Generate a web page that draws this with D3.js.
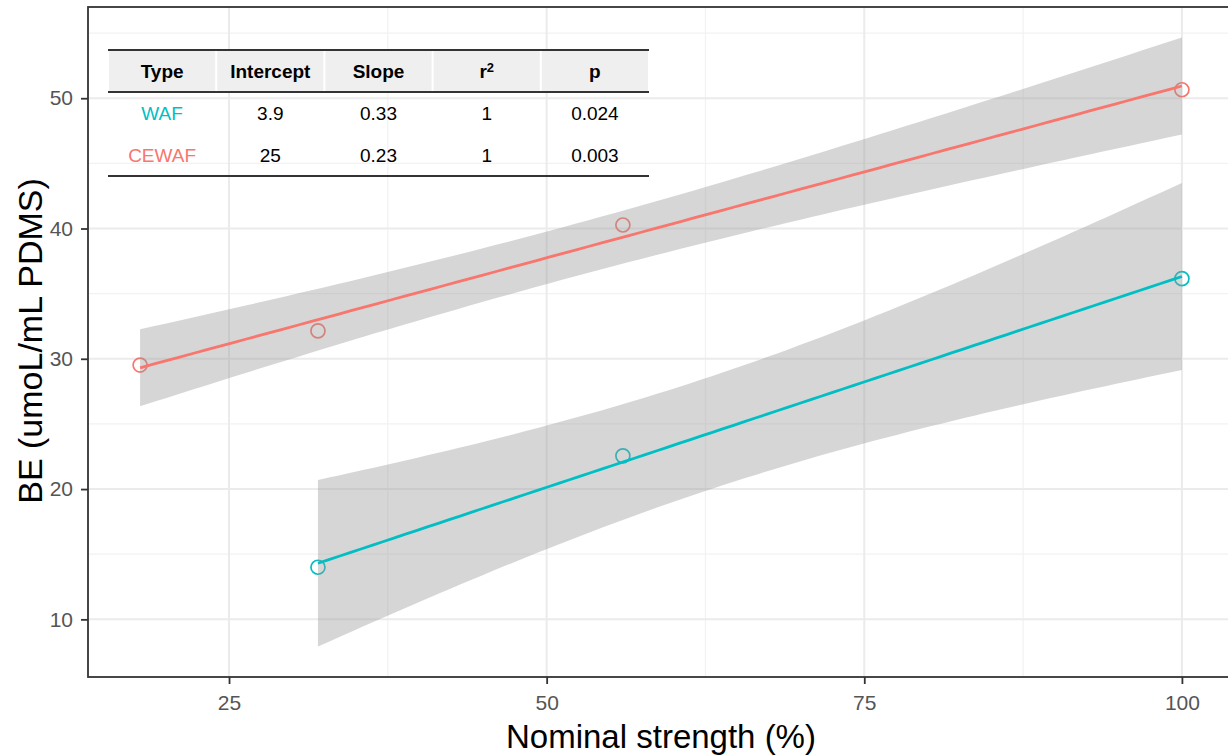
<!DOCTYPE html>
<html>
<head>
<meta charset="utf-8">
<script src="https://cdn.jsdelivr.net/npm/d3@7"></script>
<style>
  html, body { margin: 0; padding: 0; background: #fff; }
  svg { display: block; font-family: "Liberation Sans", Arial, sans-serif; }
</style>
</head>
<body>
<svg id="chart" width="1228" height="755"></svg>
<script>
// Measured body burden vs nominal strength, per exposure type
const wafStrength = [32, 56, 100];
const wafBE = [14.0, 22.55, 36.15];
const cewafStrength = [18, 32, 56, 100];
const cewafBE = [29.52, 32.14, 40.27, 50.65];

const typeNames = ["WAF", "CEWAF"];
const typeColors = ["#00BFC4", "#F8766D"];

const xTicks = [25, 50, 75, 100];
const yTicks = [10, 20, 30, 40, 50];

// Regression summary table
const tableHeader = ["Type", "Intercept", "Slope", "r2", "p"];
const tableIntercept = ["3.9", "25"];
const tableSlope = ["0.33", "0.23"];
const tableR2 = ["1", "1"];
const tableP = ["0.024", "0.003"];

// two-sided 95% t critical values by residual degrees of freedom
const tCrit = { 1: 12.706, 2: 4.303, 3: 3.182 };

const groups = [
  { name: typeNames[0], color: typeColors[0], xs: wafStrength, ys: wafBE },
  { name: typeNames[1], color: typeColors[1], xs: cewafStrength, ys: cewafBE }
];

// least-squares fit with 95% confidence band (80 evaluation points)
function smooth(g) {
  const n = g.xs.length;
  const mx = d3.mean(g.xs), my = d3.mean(g.ys);
  const sxx = d3.sum(g.xs, x => (x - mx) ** 2);
  const sxy = d3.sum(g.xs, (x, i) => (x - mx) * (g.ys[i] - my));
  const b = sxy / sxx, a = my - b * mx;
  const sse = d3.sum(g.xs, (x, i) => (g.ys[i] - (a + b * x)) ** 2);
  const s = Math.sqrt(sse / (n - 2));
  const t = tCrit[n - 2];
  const [lo, hi] = d3.extent(g.xs);
  return d3.range(80).map(i => {
    const x = lo + (hi - lo) * i / 79;
    const y = a + b * x;
    const se = s * Math.sqrt(1 / n + (x - mx) ** 2 / sxx);
    return { x, y, ymin: y - t * se, ymax: y + t * se };
  });
}
groups.forEach(g => g.fit = smooth(g));

const svg = d3.select("#chart");
const panel = { left: 88, top: 7, bottom: 677, right: 1234 };

function expand(ext) {
  const d = (ext[1] - ext[0]) * 0.05;
  return [ext[0] - d, ext[1] + d];
}
const xExt = d3.extent(groups.flatMap(g => g.xs));
const yExt = d3.extent(groups.flatMap(g => g.ys.concat(g.fit.flatMap(p => [p.ymin, p.ymax]))));

const x = d3.scaleLinear().domain(expand(xExt)).range([panel.left, panel.right]);
const y = d3.scaleLinear().domain(expand(yExt)).range([panel.bottom, panel.top]);

function minors(ticks, domain) {
  const step = ticks[1] - ticks[0];
  const m = [ticks[0] - step / 2].concat(ticks.map(t => t + step / 2));
  return m.filter(v => v >= domain[0] && v <= domain[1]);
}

const grid = svg.append("g");
grid.selectAll(".xmin").data(minors(xTicks, x.domain())).enter().append("line")
  .attr("x1", d => x(d)).attr("x2", d => x(d))
  .attr("y1", panel.top).attr("y2", panel.bottom)
  .attr("stroke", "#F2F2F2").attr("stroke-width", 1.3);
grid.selectAll(".ymin").data(minors(yTicks, y.domain())).enter().append("line")
  .attr("y1", d => y(d)).attr("y2", d => y(d))
  .attr("x1", panel.left).attr("x2", panel.right)
  .attr("stroke", "#F2F2F2").attr("stroke-width", 1.3);
grid.selectAll(".xmaj").data(xTicks).enter().append("line")
  .attr("x1", d => x(d)).attr("x2", d => x(d))
  .attr("y1", panel.top).attr("y2", panel.bottom)
  .attr("stroke", "#EBEBEB").attr("stroke-width", 2);
grid.selectAll(".ymaj").data(yTicks).enter().append("line")
  .attr("y1", d => y(d)).attr("y2", d => y(d))
  .attr("x1", panel.left).attr("x2", panel.right)
  .attr("stroke", "#EBEBEB").attr("stroke-width", 2);

// observed points
groups.forEach(g => {
  svg.append("g").selectAll("circle").data(g.xs).enter().append("circle")
    .attr("cx", d => x(d)).attr("cy", (d, i) => y(g.ys[i]))
    .attr("r", 7).attr("fill", "none")
    .attr("stroke", g.color).attr("stroke-width", 1.7);
});

// confidence ribbons and fitted lines
groups.forEach(g => {
  svg.append("path").datum(g.fit)
    .attr("d", d3.area().x(d => x(d.x)).y0(d => y(d.ymin)).y1(d => y(d.ymax)))
    .attr("fill", "#999999").attr("fill-opacity", 0.4);
  svg.append("path").datum(g.fit)
    .attr("d", d3.line().x(d => x(d.x)).y(d => y(d.y)))
    .attr("fill", "none").attr("stroke", g.color).attr("stroke-width", 2.8);
});

// panel border
svg.append("rect")
  .attr("x", panel.left).attr("y", panel.top)
  .attr("width", panel.right - panel.left).attr("height", panel.bottom - panel.top)
  .attr("fill", "none").attr("stroke", "#333333").attr("stroke-width", 1.8);

// axes
const xAxis = svg.append("g").attr("transform", `translate(0,${panel.bottom})`)
  .call(d3.axisBottom(x).tickValues(xTicks).tickSize(7).tickPadding(7).tickFormat(d3.format("d")));
const yAxis = svg.append("g").attr("transform", `translate(${panel.left},0)`)
  .call(d3.axisLeft(y).tickValues(yTicks).tickSize(7).tickPadding(8).tickFormat(d3.format("d")));
[xAxis, yAxis].forEach(ax => {
  ax.select(".domain").remove();
  ax.selectAll(".tick line").attr("stroke", "#333333").attr("stroke-width", 1.8);
  ax.selectAll(".tick text").attr("fill", "#555555")
    .style("font-size", "21px").style("font-family", "'Liberation Sans', Arial, sans-serif");
});
xAxis.selectAll(".tick text").attr("dy", "0.92em");

// axis titles
svg.append("text")
  .attr("x", (panel.left + panel.right) / 2).attr("y", 748)
  .attr("text-anchor", "middle").attr("fill", "#000")
  .style("font-size", "33px").text("Nominal strength (%)");
svg.append("text")
  .attr("transform", `translate(42,341) rotate(-90)`)
  .attr("text-anchor", "middle").attr("fill", "#000")
  .style("font-size", "34px").text("BE (umoL/mL PDMS)");

// regression table
const tbl = svg.append("g");
const col = d3.scaleBand().domain(tableHeader).range([108, 649]);
const rowTop = [50, 92, 134];
const rowH = 42;

tbl.selectAll(".hcell").data(tableHeader).enter().append("rect")
  .attr("x", d => col(d) + 1).attr("y", rowTop[0])
  .attr("width", col.bandwidth() - 2).attr("height", rowH)
  .attr("fill", "#EFEFEF");

const hText = tbl.selectAll(".htext").data(tableHeader).enter().append("text")
  .attr("x", d => col(d) + col.bandwidth() / 2).attr("y", rowTop[0] + rowH / 2)
  .attr("dy", "0.36em").attr("text-anchor", "middle")
  .style("font-size", "19px").style("font-weight", "bold").attr("fill", "#000");
hText.each(function(d) {
  const t = d3.select(this);
  if (d === "r2") {
    t.append("tspan").text("r");
    t.append("tspan").attr("dy", "-0.45em").style("font-size", "13px").text("2");
  } else {
    t.text(d);
  }
});

const rows = typeNames.map((name, i) => [name, tableIntercept[i], tableSlope[i], tableR2[i], tableP[i]]);
rows.forEach((r, i) => {
  tbl.selectAll(".r" + i).data(r).enter().append("text")
    .attr("x", (d, j) => col(tableHeader[j]) + col.bandwidth() / 2)
    .attr("y", rowTop[i + 1] + rowH / 2)
    .attr("dy", "0.36em").attr("text-anchor", "middle")
    .style("font-size", "19px")
    .attr("fill", (d, j) => j === 0 ? typeColors[i] : "#000")
    .text(d => d);
});

[rowTop[0], rowTop[1], rowTop[2] + rowH].forEach(yy => {
  tbl.append("line").attr("x1", 108).attr("x2", 649)
    .attr("y1", yy).attr("y2", yy)
    .attr("stroke", "#333333").attr("stroke-width", 2);
});
</script>
</body>
</html>
